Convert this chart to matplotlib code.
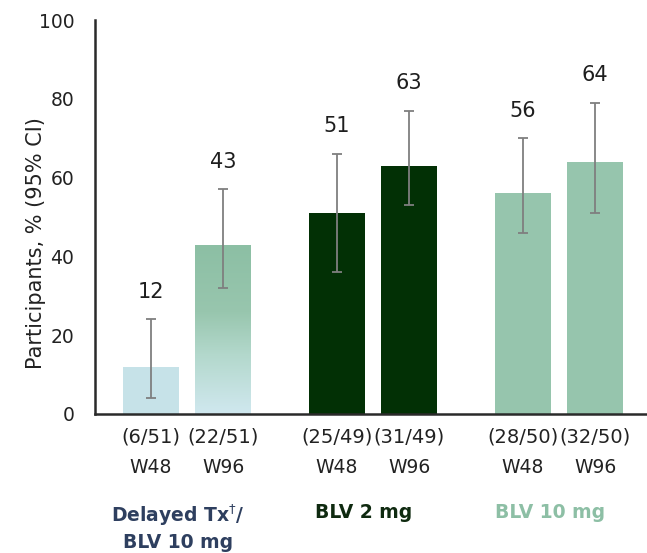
import numpy as np
import matplotlib
matplotlib.use("Agg")
import matplotlib.pyplot as plt
from matplotlib.colors import LinearSegmentedColormap
from matplotlib.transforms import blended_transform_factory

plt.rcParams['font.family'] = ['DejaVu Sans']

# ---- data ----
groups = ["Delayed Tx$^{\\dagger}$/\nBLV 10 mg", "BLV 2 mg", "BLV 10 mg"]
timepoints = ["W48", "W96"]
values = [12, 43, 51, 63, 56, 64]
ci_low = [4, 32, 36, 53, 46, 51]
ci_high = [24, 57, 66, 77, 70, 79]
counts = ["(6/51)", "(22/51)", "(25/49)", "(31/49)", "(28/50)", "(32/50)"]
yticks = [0, 20, 40, 60, 80, 100]

# ---- style ----
bar_colors = ["#c6e2e8", None, "#023005", "#023005", "#96c5ad", "#96c5ad"]
group_colors = ["#2e3f5f", "#0f2a10", "#8dbfa5"]
offset = 0.194
width = 0.30

fig = plt.figure(figsize=(6.47, 5.53), dpi=100)
ax = fig.add_axes([0.1468, 0.2514, 0.8532, 0.7124])

xs = []
for g in range(len(groups)):
    for t in range(len(timepoints)):
        xs.append(g + (t - 0.5) * 2 * offset)
xs = np.array(xs)

bars = ax.bar(xs, values, width=width, color=[c if c else "none" for c in bar_colors],
              zorder=2, linewidth=0)

# gradient fill for the delayed-treatment W96 bar
grad_cmap = LinearSegmentedColormap.from_list(
    "fade", [(0.0, "#d0e8ef"), (0.35, "#b3d8cc"), (0.6, "#98c6ae"), (1.0, "#8cbfa4")])
b = bars[1]
grad = np.linspace(0, 1, 256).reshape(-1, 1)
im = ax.imshow(grad, cmap=grad_cmap, origin="lower", aspect="auto",
               extent=[b.get_x(), b.get_x() + b.get_width(), 0, b.get_height()], zorder=2)
im.set_clip_path(b)

err_lo = np.array(values) - np.array(ci_low)
err_hi = np.array(ci_high) - np.array(values)
ax.errorbar(xs, values, yerr=[err_lo, err_hi], fmt="none", ecolor="#7f7f7f",
            elinewidth=1.3, capsize=3.3, capthick=1.3, zorder=3)

for x, v, h in zip(xs, values, ci_high):
    ax.text(x, h + 7, f"{v}", ha="center", va="center", fontsize=15, color="#1e1e1e")

ax.set_xlim(-0.495, 2.473)
ax.set_ylim(0, 100)
ax.set_yticks(yticks)
ax.set_yticklabels([str(t) for t in yticks], fontsize=13.5, color="#222222")
ax.tick_params(axis="y", length=0, pad=15)
ax.set_xticks([])
ax.set_ylabel("Participants, % (95% CI)", fontsize=15, color="#222222")
ax.yaxis.set_label_coords(-0.088, 0.434)

for side in ["top", "right"]:
    ax.spines[side].set_visible(False)
ax.spines["left"].set_linewidth(1.8)
ax.spines["bottom"].set_linewidth(1.8)
ax.spines["left"].set_color("#2a2a2a")
ax.spines["bottom"].set_color("#2a2a2a")

tr = blended_transform_factory(ax.transData, ax.transAxes)
for i, x in enumerate(xs):
    ax.text(x, -0.058, counts[i], transform=tr, ha="center", va="center",
            fontsize=14, color="#222222")
    ax.text(x, -0.137, timepoints[i % 2], transform=tr, ha="center", va="center",
            fontsize=13.5, color="#222222")

for g, (name, col) in enumerate(zip(groups, group_colors)):
    ax.text(g - 0.05, -0.225, name, transform=tr, ha="center", va="top",
            fontsize=13.5, fontweight="bold", color=col, linespacing=1.35)

fig.savefig("out.png", dpi=100, facecolor="white")
